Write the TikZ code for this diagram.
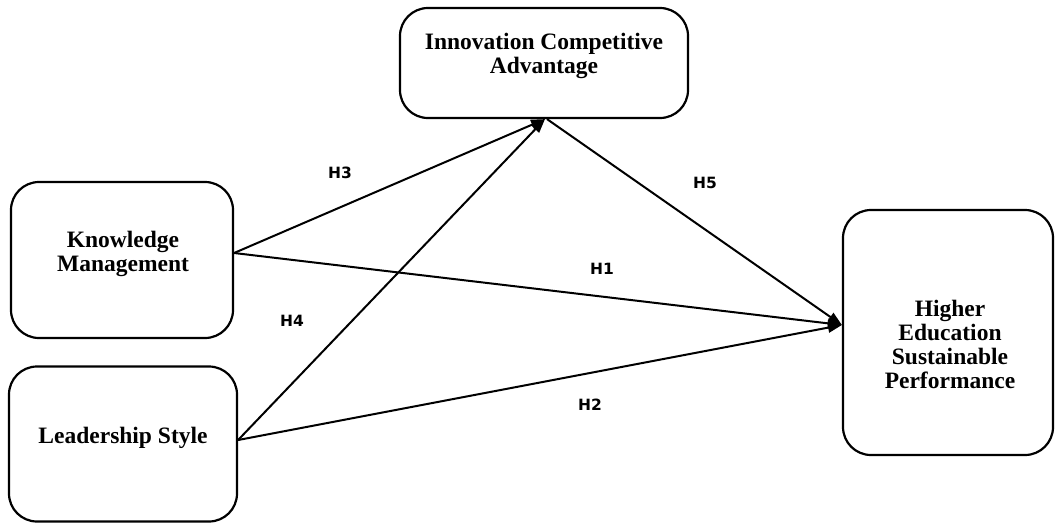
\documentclass[tikz,border=0pt]{standalone}
\usepackage{fontspec}
\setmainfont{Liberation Serif}
\newfontfamily\labfont{DejaVu Sans}
\usetikzlibrary{arrows.meta,calc}
\begin{document}
\begin{tikzpicture}[x=1pt,y=-1pt,
  box/.style={draw, line width=2.2pt, rounded corners=28pt, inner sep=0pt},
  boxtext/.style={font=\bfseries\fontsize{23.5}{24}\selectfont, align=center, inner sep=0pt},
  hyp/.style={font=\labfont\bfseries\fontsize{15.5}{18}\selectfont, inner sep=0pt},
  link/.style={line width=2pt, -{Triangle[length=14pt,width=10pt]}}]
\path[fill=white, use as bounding box] (0,0) rectangle (1057,523);
% boxes
\node[box, minimum width=288pt, minimum height=110pt] (ica) at (544,63) {};
\node[box, minimum width=222pt, minimum height=156pt] (km) at (122,260) {};
\node[box, minimum width=228pt, minimum height=155pt] (ls) at (123,444) {};
\node[box, minimum width=210pt, minimum height=245pt] (hesp) at (948,332.5) {};
% box texts
\node[boxtext] (icat) at (544,56) {Innovation Competitive\\Advantage};
\node[boxtext] (kmt) at (123,254) {Knowledge\\Management};
\node[boxtext] (lst) at (123,438) {Leadership Style};
\node[boxtext] (hespt) at (950,344) {Higher\\Education\\Sustainable\\Performance};
% connector ends
\coordinate (kmout) at ([yshift=7pt]km.east);
\coordinate (lsout) at ([yshift=4pt]ls.east);
\coordinate (icain) at ([xshift=1pt]ica.south);
\coordinate (icaout) at ([xshift=3pt]ica.south);
\coordinate (hespin) at ([yshift=7.5pt]hesp.west);
% connectors
\draw[link] (kmout) -- (icain);
\draw[link] (lsout) -- (icain);
\draw[link] (icaout) -- (hespin);
\draw[link] (kmout) -- (hespin);
\draw[link] (lsout) -- (hespin);
% labels
\node[hyp] (h3) at (340,173) {H3};
\node[hyp] (h4) at (292,321) {H4};
\node[hyp] (h5) at (705,183) {H5};
\node[hyp] (h1) at (602,269) {H1};
\node[hyp] (h2) at (590,405) {H2};
\end{tikzpicture}
\end{document}
